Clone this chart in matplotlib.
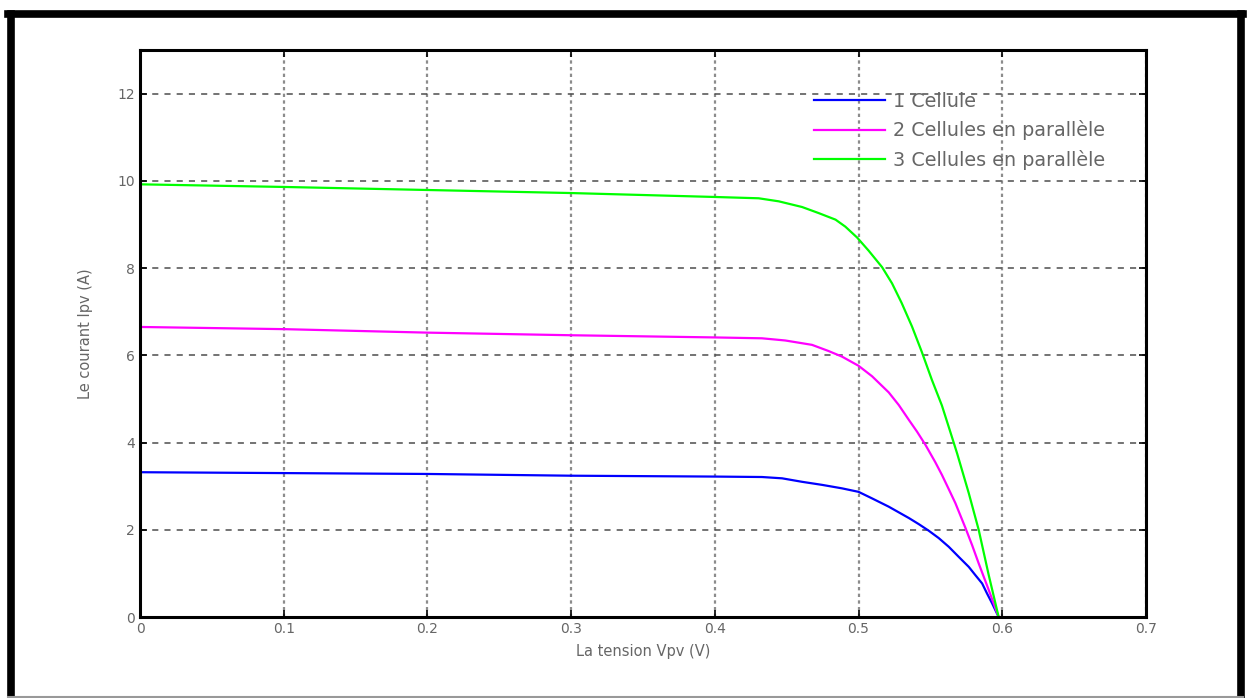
import numpy as np
from matplotlib import pyplot as plt
from matplotlib.lines import Line2D

# tension (V) / courant (A)
v1 = [0.0, 0.1, 0.2, 0.3, 0.4, 0.4328, 0.4468, 0.4607, 0.4746, 0.4885, 0.500,
      0.5094, 0.521, 0.528, 0.535, 0.5419, 0.5488, 0.5558, 0.5628, 0.5697,
      0.5767, 0.5813, 0.586, 0.5894, 0.593, 0.5975]
i1 = [3.32, 3.30, 3.28, 3.24, 3.22, 3.21, 3.18, 3.10, 3.03, 2.95, 2.87,
      2.72, 2.53, 2.40, 2.27, 2.13, 1.98, 1.81, 1.61, 1.38,
      1.15, 0.96, 0.77, 0.54, 0.31, 0.0]

v2 = [0.0, 0.1, 0.2, 0.3, 0.4, 0.4328, 0.449, 0.4676, 0.479, 0.4885, 0.500,
      0.5094, 0.521, 0.528, 0.535, 0.5407, 0.5465, 0.5534, 0.558, 0.5628,
      0.5674, 0.5743, 0.579, 0.5836, 0.5906, 0.5975]
i2 = [6.65, 6.60, 6.52, 6.46, 6.41, 6.39, 6.34, 6.24, 6.10, 5.97, 5.76,
      5.52, 5.15, 4.86, 4.52, 4.25, 3.95, 3.55, 3.26, 2.93,
      2.61, 2.05, 1.65, 1.23, 0.62, 0.0]

v3 = [0.0, 0.1, 0.2, 0.3, 0.4, 0.4305, 0.4445, 0.4607, 0.4723, 0.484, 0.4908,
      0.499, 0.507, 0.5164, 0.5233, 0.530, 0.5372, 0.544, 0.551, 0.558,
      0.564, 0.5686, 0.5767, 0.5836, 0.5906, 0.5975]
i3 = [9.92, 9.86, 9.79, 9.72, 9.63, 9.60, 9.53, 9.40, 9.26, 9.11, 8.95,
      8.70, 8.40, 8.02, 7.65, 7.20, 6.66, 6.08, 5.44, 4.85,
      4.23, 3.75, 2.84, 2.00, 0.96, 0.0]

labels = ['1 Cellule', '2 Cellules en parallèle', '3 Cellules en parallèle']
colors = ['#0000ff', '#ff00ff', '#00ff00']

fig = plt.figure(figsize=(12.49, 6.98), dpi=100)
ax = fig.add_axes([0.1121, 0.116, 0.8054, 0.8124])

ax.plot(v1, i1, color=colors[0], lw=1.6, label=labels[0])
ax.plot(v2, i2, color=colors[1], lw=1.6, label=labels[1])
ax.plot(v3, i3, color=colors[2], lw=1.6, label=labels[2])

ax.set_xlim(0, 0.7)
ax.set_ylim(0, 13)
ax.set_xticks(np.arange(0, 0.71, 0.1))
ax.set_xticklabels(['0', '0.1', '0.2', '0.3', '0.4', '0.5', '0.6', '0.7'])
ax.set_yticks(np.arange(0, 13, 2))

ax.yaxis.grid(True, linestyle=(0, (4, 4)), color='0.3', lw=1.1)
ax.xaxis.grid(True, linestyle=(0, (1.5, 1.5)), color='0.55', lw=1.6)
ax.tick_params(direction='in', top=True, right=True, length=5,
               labelsize=10, labelcolor='0.4', width=1.2)
for s in ax.spines.values():
    s.set_linewidth(2.2)

ax.set_xlabel('La tension Vpv (V)', fontsize=10.5, color='0.4', labelpad=6)
ax.set_ylabel('Le courant Ipv (A)', fontsize=10.5, color='0.4', labelpad=18)

leg = ax.legend(loc='upper left', bbox_to_anchor=(0.662, 0.94), frameon=False,
                fontsize=13.8, handlelength=3.7, handletextpad=0.45,
                labelspacing=0.5, borderaxespad=0)
for t in leg.get_texts():
    t.set_color('0.4')

# cadre noir autour de l'image
W, H = 1249, 698
fr = dict(color='black', lw=5.5, transform=fig.transFigure, clip_on=False)
fig.add_artist(Line2D([10.5 / W, 10.5 / W], [0, 1 - 13.5 / H], **fr))
fig.add_artist(Line2D([8 / W, 1242.5 / W], [1 - 13.5 / H, 1 - 13.5 / H], **fr))
fig.add_artist(Line2D([1240.5 / W, 1240.5 / W], [0, 1 - 13.5 / H], **fr))
fig.add_artist(Line2D([8 / W, 1242.5 / W], [1.5 / H, 1.5 / H],
                      color='0.6', lw=1.5, transform=fig.transFigure))

fig.savefig('out.png', dpi=100)
